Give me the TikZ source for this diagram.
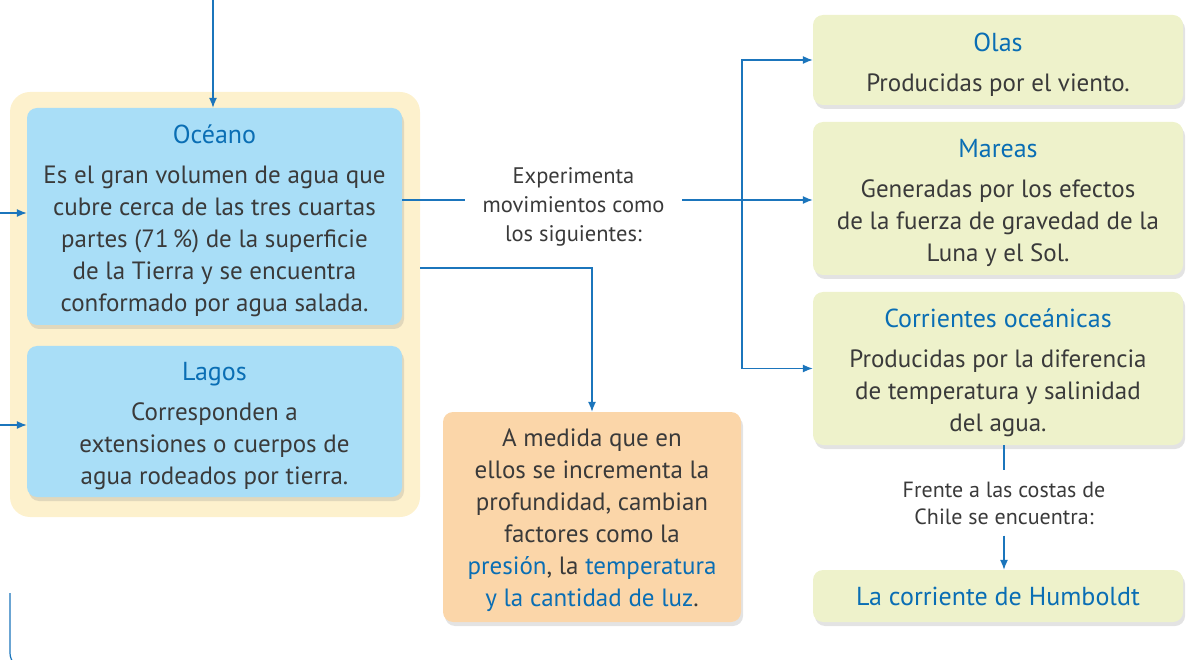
\documentclass[tikz,border=0pt]{standalone}
\usepackage{fontspec}
\setmainfont{PT Sans}
\usetikzlibrary{arrows.meta,shadows}

\definecolor{mapblue}{HTML}{1B75BC}
\definecolor{titleblue}{HTML}{0A6EB4}
\definecolor{oceanfill}{HTML}{A9DEF7}
\definecolor{groupfill}{HTML}{FDF1CD}
\definecolor{depthfill}{HTML}{FBD6A9}
\definecolor{movefill}{HTML}{EEF2CB}
\definecolor{bodytext}{HTML}{3A3A3A}

\tikzset{
  card/.style={rounded corners=10pt, align=center, text=bodytext, inner sep=0pt,
    font=\fontsize{25}{32}\selectfont,
    drop shadow={shadow xshift=2pt, shadow yshift=-4pt, opacity=0.22}},
  link/.style={mapblue, line width=1.2pt},
  arr/.style={link, -{Latex[length=10pt,width=8pt]}},
  note/.style={align=center, text=bodytext, inner sep=0pt}
}
\newcommand{\cardtitle}[1]{\rule{0pt}{28pt}\textcolor{titleblue}{\fontsize{26}{32}\selectfont #1}}

\begin{document}
\begin{tikzpicture}[x=1pt,y=-1pt]
    \useasboundingbox (0,0) rectangle (1189,660);

    % Yellow group behind the two water bodies
    \fill[groupfill, rounded corners=20pt] (10,92) rectangle (420,517);

    % Water bodies
    \node[card, fill=oceanfill, minimum width=375pt, minimum height=217pt] (oceano) at (214.5,216.5)
        {\cardtitle{Océano}\\[8pt]
         Es el gran volumen de agua que\\
         cubre cerca de las tres cuartas\\
         partes (71\,\%) de la superficie\\
         de la Tierra y se encuentra\\
         conformado por agua salada.};
    \node[card, fill=oceanfill, minimum width=375pt, minimum height=151pt] (lagos) at (214.5,421.5)
        {\cardtitle{Lagos}\\[8pt]
         Corresponden a\\
         extensiones o cuerpos de\\
         agua rodeados por tierra.};

    % Depth box
    \node[card, fill=depthfill, minimum width=298pt, minimum height=210pt] (ellos) at (592,517)
        {\rule{0pt}{24pt}A medida que en\\
         ellos se incrementa la\\
         profundidad, cambian\\
         factores como la\\
         \textcolor{titleblue}{presión}, la \textcolor{titleblue}{temperatura}\\
         \textcolor{titleblue}{y la cantidad de luz}.};

    % Movements
    \node[card, fill=movefill, minimum width=370pt, minimum height=90pt] (olas) at (998,60)
        {\cardtitle{Olas}\\[8pt]
         Producidas por el viento.};
    \node[card, fill=movefill, minimum width=370pt, minimum height=153pt] (mareas) at (998,198.5)
        {\cardtitle{Mareas}\\[8pt]
         Generadas por los efectos\\
         de la fuerza de gravedad de la\\
         Luna y el Sol.};
    \node[card, fill=movefill, minimum width=370pt, minimum height=153pt] (corrientes) at (998,368.5)
        {\cardtitle{Corrientes oceánicas}\\[8pt]
         Producidas por la diferencia\\
         de temperatura y salinidad\\
         del agua.};
    \node[card, fill=movefill, minimum width=370pt, minimum height=52pt] (humboldt) at (998,596)
        {\textcolor{titleblue}{\fontsize{26}{32}\selectfont La corriente de Humboldt}};

    % Connector labels
    \node[note, font=\fontsize{22.5}{29}\selectfont, minimum width=217pt] (mov) at (573.5,207)
        {Experimenta\\ movimientos como\\ los siguientes:};
    \node[note, font=\fontsize{22}{27}\selectfont, minimum height=65pt] (frente) at (1004,503)
        {Frente a las costas de\\ Chile se encuentra:};

    % Free ends
    \coordinate (arriba) at (213,0);
    \coordinate (inOceano) at (0,213);
    \coordinate (inLagos) at (0,425);
    \coordinate (outOceano) at (420,268);
    \coordinate (split) at (742,200);

    % Connectors
    \draw[arr] (arriba) -- (arriba |- oceano.north);
    \draw[arr] (inOceano) -- (inOceano -| oceano.west);
    \draw[arr] (inLagos) -- (inLagos -| lagos.west);
    \draw[link] (split -| oceano.east) -- (split -| mov.west);
    \draw[arr] (split -| mov.east) -- (split -| mareas.west);
    \draw[arr] (split) |- (olas.west);
    \draw[arr] (split) |- (corrientes.west);
    \draw[arr] (outOceano) -| (ellos.north);
    \draw[link] (frente.north |- corrientes.south) -- (frente.north);
    \draw[arr] (frente.south) -- (frente.south |- humboldt.north);

    % Edge of the next part of the map
    \draw[link, rounded corners=15pt] (10,593) |- (60,668);
\end{tikzpicture}
\end{document}
